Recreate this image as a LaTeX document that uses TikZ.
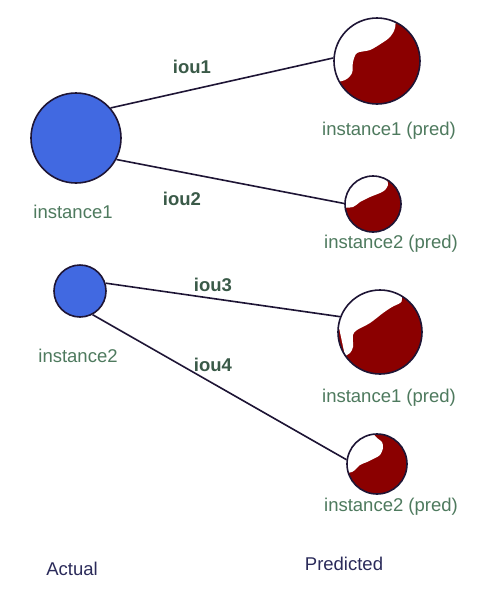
\documentclass[tikz,border=0pt]{standalone}
\usepackage{fontspec}
\setmainfont{Liberation Sans}
\definecolor{outl}{HTML}{1E1535}
\definecolor{bluefill}{HTML}{4169E1}
\definecolor{redfill}{HTML}{8B0000}
\definecolor{lbl}{HTML}{4E7A5E}
\definecolor{ioucol}{HTML}{3A5A48}
\definecolor{axcol}{HTML}{2B2B5A}
\begin{document}
\begin{tikzpicture}[x=1pt,y=-1pt,
  actual/.style={circle,draw=outl,line width=1.6pt,fill=bluefill,inner sep=0pt},
  pred/.style={circle,draw=outl,line width=1.6pt,inner sep=0pt},
  conn/.style={draw=outl,line width=1.6pt},
  txt/.style={anchor=base,inner sep=0pt,font=\fontsize{18.5}{22}\selectfont},
  lab/.style={txt,text=lbl},
  iou/.style={txt,text=ioucol,font=\fontsize{18.5}{22}\selectfont\bfseries},
  axis/.style={txt,text=axcol}]
\useasboundingbox (0,0) rectangle (495,603);
\fill[white] (0,0) rectangle (495,603);
% actual
\node[actual,minimum size=90pt] (a1) at (76,138) {};
\node[actual,minimum size=52pt] (a2) at (80,291) {};
% predicted: red fill + white blob
\fill[redfill] (377,61) circle [radius=43];
\begin{scope}
\clip (377,61) circle [radius=43];
\fill[white] plot[smooth] coordinates {(328,84) (345,80) (352,73) (353,62) (357,53) (370,50) (382,43) (390,37) (395,28) (396,12)} -- (320,8) -- cycle;
\end{scope}
\node[pred,minimum size=86pt] (p1) at (377,61) {};
\fill[redfill] (373,204) circle [radius=28];
\begin{scope}
\clip (373,204) circle [radius=28];
\fill[white] plot[smooth] coordinates {(340,208) (353,207) (360,202) (370,197) (380,193) (385,190) (388,185) (387,180) (384,172)} -- (340,170) -- cycle;
\end{scope}
\node[pred,minimum size=56pt] (p2) at (373,204) {};
\fill[redfill] (380,332) circle [radius=42];
\begin{scope}
\clip (380,332) circle [radius=42];
\fill[white] plot[smooth] coordinates {(345,356) (350,353) (353,347) (353,335) (357,330) (370,323) (383,313) (392,307) (400,303) (402,299) (400,285)} -- (330,285) -- cycle;
\end{scope}
\node[pred,minimum size=84pt] (p3) at (380,332) {};
\fill[redfill] (377,464) circle [radius=30];
\begin{scope}
\clip (377,464) circle [radius=30];
\fill[white] plot[smooth] coordinates {(342,474) (352,472) (355,470) (360,465) (367,462) (375,458) (380,455) (383,448) (382,442) (377,438) (370,430)} -- (340,430) -- cycle;
\end{scope}
\node[pred,minimum size=60pt] (p4) at (377,464) {};
% connectors
\draw[conn] (a1.41) -- (p1.176);
\draw[conn] (a1.-28) -- (p2.179);
\draw[conn] (a2.17) -- (p3.159);
\draw[conn] (a2.-62) -- (p4.172);
% labels
\node[iou] (i1) at (192,73) {iou1};
\node[iou] (i2) at (182,205) {iou2};
\node[iou] (i3) at (213,291) {iou3};
\node[iou] (i4) at (213,371) {iou4};
\node[lab] (l1) at (73,218) {instance1};
\node[lab] (l2) at (78,362) {instance2};
\node[lab] (l3) at (389,135) {instance1 (pred)};
\node[lab] (l4) at (391,248) {instance2 (pred)};
\node[lab] (l5) at (389,402) {instance1 (pred)};
\node[lab] (l6) at (391,511) {instance2 (pred)};
\node[axis] (ax1) at (72,575) {Actual};
\node[axis] (ax2) at (344,570) {Predicted};
\end{tikzpicture}
\end{document}
